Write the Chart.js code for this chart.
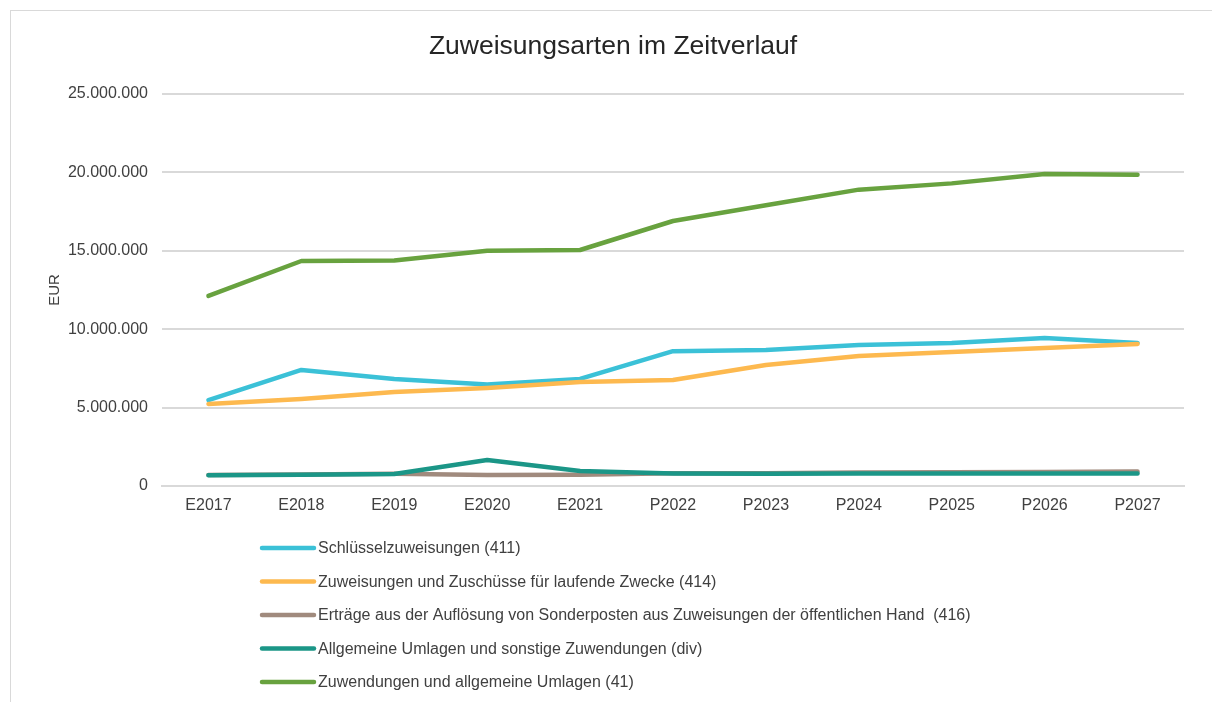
<!DOCTYPE html>
<html>
<head>
<meta charset="utf-8">
<script src="https://cdn.jsdelivr.net/npm/chart.js@4"></script>
<style>
  body { margin: 0; background: #fff; }
  #frame {
    position: absolute; left: 10px; top: 10px;
    width: 1201px; height: 700px;
    border: 1px solid #d9d9d9; border-right: none; border-bottom: none;
  }
  #zuweisungen { display: block; }
</style>
</head>
<body>
<div id="frame"><canvas id="zuweisungen" width="1201" height="692"></canvas></div>
<script>
const jahre = ['E2017', 'E2018', 'E2019', 'E2020', 'E2021', 'P2022', 'P2023', 'P2024', 'P2025', 'P2026', 'P2027'];

const schluessel411 = [5480000, 7400000, 6820000, 6480000, 6830000, 8600000, 8670000, 9000000, 9120000, 9440000, 9120000];
const laufendeZwecke414 = [5230000, 5550000, 6000000, 6250000, 6630000, 6760000, 7720000, 8290000, 8550000, 8800000, 9060000];
const sonderposten416 = [700000, 730000, 780000, 700000, 720000, 820000, 820000, 860000, 880000, 900000, 920000];
const umlagenDiv = [680000, 720000, 760000, 1660000, 950000, 800000, 780000, 790000, 790000, 800000, 800000];
const zuwendungen41 = [12120000, 14350000, 14380000, 15000000, 15050000, 16900000, 17900000, 18900000, 19300000, 19900000, 19850000];

const serien = [
  { label: 'Schlüsselzuweisungen (411)', data: schluessel411, color: '#3bc1d7' },
  { label: 'Zuweisungen und Zuschüsse für laufende Zwecke (414)', data: laufendeZwecke414, color: '#fdb94f' },
  { label: 'Erträge aus der Auflösung von Sonderposten aus Zuweisungen der öffentlichen Hand  (416)', data: sonderposten416, color: '#a08a7d' },
  { label: 'Allgemeine Umlagen und sonstige Zuwendungen (div)', data: umlagenDiv, color: '#1b9687' },
  { label: 'Zuwendungen und allgemeine Umlagen (41)', data: zuwendungen41, color: '#68a23f' }
];

const fmt = v => v.toLocaleString('de-DE');
const schrift = '"Liberation Sans", Arial, sans-serif';

// legend drawn as a vertical list under the x axis, like the original
const listenLegende = {
  id: 'listenLegende',
  afterDraw(chart) {
    const ctx = chart.ctx;
    ctx.save();
    ctx.font = '16px ' + schrift;
    ctx.textBaseline = 'middle';
    chart.data.datasets.forEach((ds, i) => {
      const y = 537 + i * 33.5;
      ctx.strokeStyle = ds.borderColor;
      ctx.lineWidth = 4.5;
      ctx.lineCap = 'round';
      ctx.beginPath();
      ctx.moveTo(251, y);
      ctx.lineTo(303, y);
      ctx.stroke();
      ctx.fillStyle = '#404040';
      ctx.fillText(ds.label, 307, y + 1);
    });
    ctx.restore();
  }
};

new Chart(document.getElementById('zuweisungen'), {
  type: 'line',
  data: {
    labels: jahre,
    datasets: serien.map((s, i) => ({
      label: s.label,
      data: s.data,
      borderColor: s.color,
      backgroundColor: s.color,
      borderWidth: 4.5,
      borderCapStyle: 'round',
      borderJoinStyle: 'round',
      pointRadius: 0,
      tension: 0,
      order: serien.length - i
    }))
  },
  options: {
    responsive: false,
    animation: false,
    layout: { padding: { left: 31, right: 28, top: 0, bottom: 177 } },
    plugins: {
      legend: { display: false },
      tooltip: { enabled: false },
      title: {
        display: true,
        text: 'Zuweisungsarten im Zeitverlauf',
        color: '#262626',
        font: { family: schrift, size: 26.5, weight: 'normal' },
        padding: { top: 19.6, bottom: 31.6 }
      }
    },
    scales: {
      x: {
        offset: true,
        grid: { display: false, drawTicks: false },
        border: { display: true, color: '#d9d9d9', width: 2 },
        ticks: {
          color: '#404040',
          padding: 10,
          maxRotation: 0,
          font: { family: schrift, size: 16 }
        },
        afterFit: s => { s.height = 40; }
      },
      y: {
        min: 0,
        max: 25000000,
        border: { display: false },
        grid: { color: '#d9d9d9', lineWidth: 2, drawTicks: false },
        ticks: {
          stepSize: 5000000,
          color: '#404040',
          padding: 14,
          font: { family: schrift, size: 16 },
          callback: v => fmt(v)
        },
        title: {
          display: true,
          text: 'EUR',
          color: '#404040',
          font: { family: schrift, size: 15 }
        },
        afterFit: s => { s.width = 120; }
      }
    }
  },
  plugins: [listenLegende]
});
</script>
</body>
</html>
